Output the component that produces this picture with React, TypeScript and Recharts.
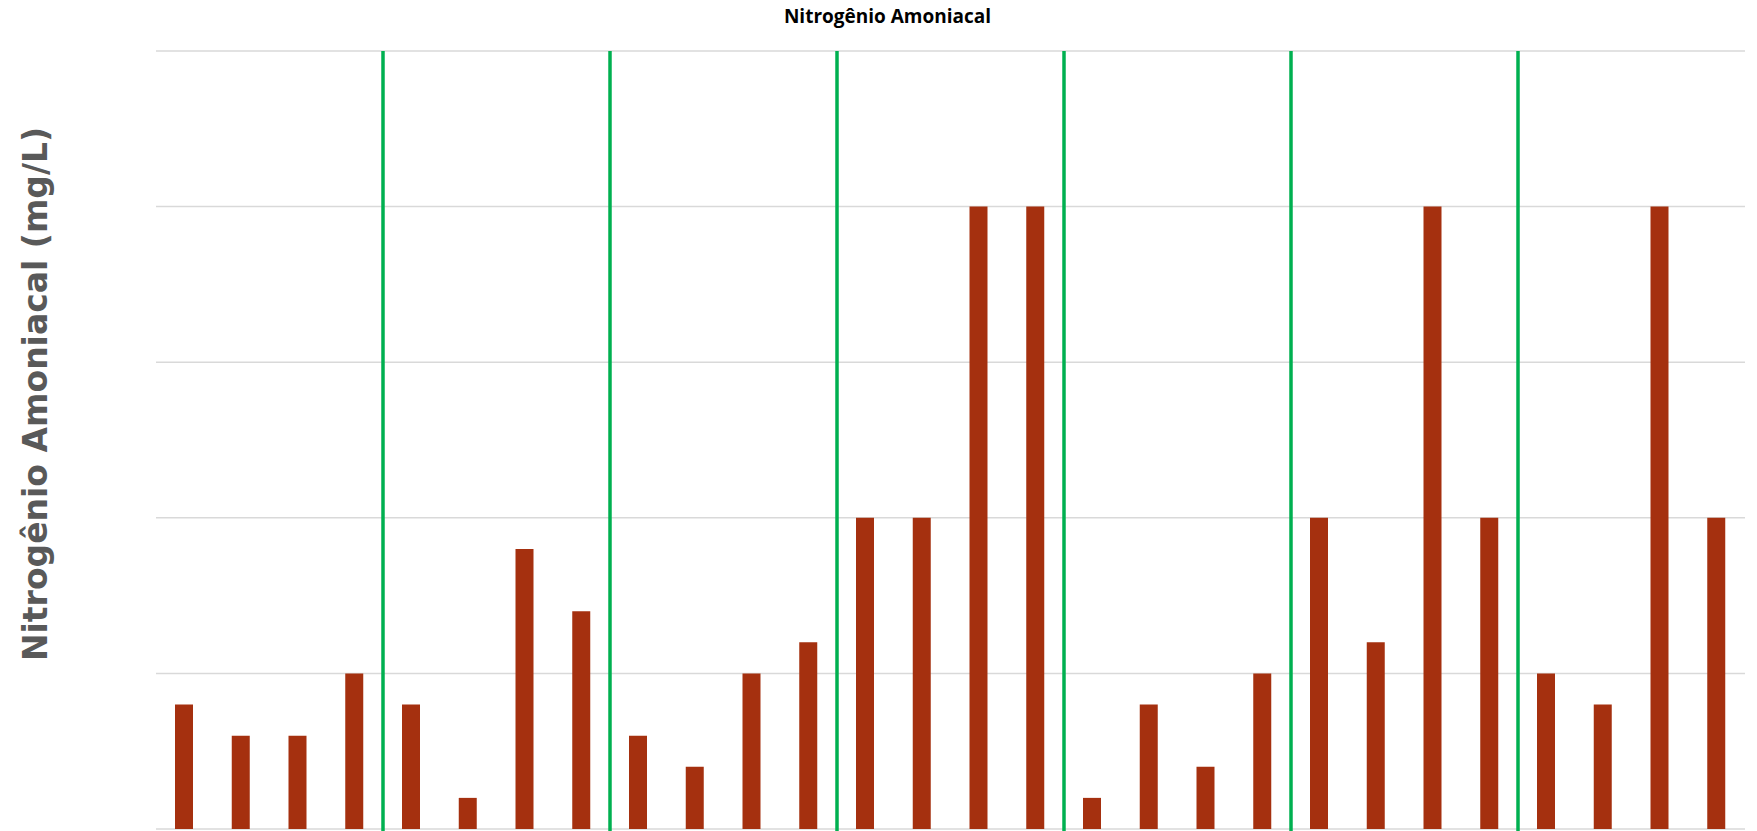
import { BarChart, Bar, XAxis, YAxis, CartesianGrid, ReferenceLine } from "recharts";

// values in mg/L, one per sample, left to right
const values = [
  0.4, 0.3, 0.3, 0.5,
  0.4, 0.1, 0.9, 0.7,
  0.3, 0.2, 0.5, 0.6,
  1.0, 1.0, 2.0, 2.0,
  0.1, 0.4, 0.2, 0.5,
  1.0, 0.6, 2.0, 1.0,
  0.5, 0.4, 2.0, 1.0,
];
const yTicks = [0, 0.5, 1, 1.5, 2, 2.5];
// green separators every 4 samples
const dividers = [4, 8, 12, 16, 20, 24];

const data = values.map((v, i) => ({ pos: i + 0.5, value: v }));

export default function App() {
  return (
    <div style={{ position: "absolute", left: 0, top: 0, width: 1757, height: 831, background: "#fff" }}>
      <style>{"body{margin:0}"}</style>
      <div
        style={{
          position: "absolute", top: 3, left: 0, width: 1775, textAlign: "center",
          fontFamily: "'Open Sans', sans-serif", fontWeight: 700, fontSize: 19, color: "#000",
        }}
      >
        Nitrogênio Amoniacal
      </div>
      <div
        style={{
          position: "absolute", left: 35, top: 394, whiteSpace: "nowrap",
          transform: "translate(-50%, -50%) rotate(-90deg)",
          fontFamily: "'DejaVu Sans', sans-serif", fontWeight: 700, fontSize: 33, color: "#595959",
        }}
      >
        Nitrogênio Amoniacal (mg/L)
      </div>
      <BarChart width={1757} height={831} data={data} margin={{ top: 51, right: 12, bottom: 2, left: 156 }}>
        <CartesianGrid vertical={false} stroke="#d9d9d9" strokeWidth={1.5} />
        <XAxis dataKey="pos" type="number" domain={[0, values.length]} hide />
        <YAxis domain={[0, 2.5]} ticks={yTicks} hide />
        <Bar dataKey="value" fill="#a5300f" barSize={18} isAnimationActive={false} />
        {dividers.map((d) => (
          <ReferenceLine
            key={d}
            segment={[{ x: d, y: -0.02 }, { x: d, y: 2.5 }]}
            ifOverflow="visible"
            stroke="#00b050"
            strokeWidth={3.5}
          />
        ))}
      </BarChart>
    </div>
  );
}
